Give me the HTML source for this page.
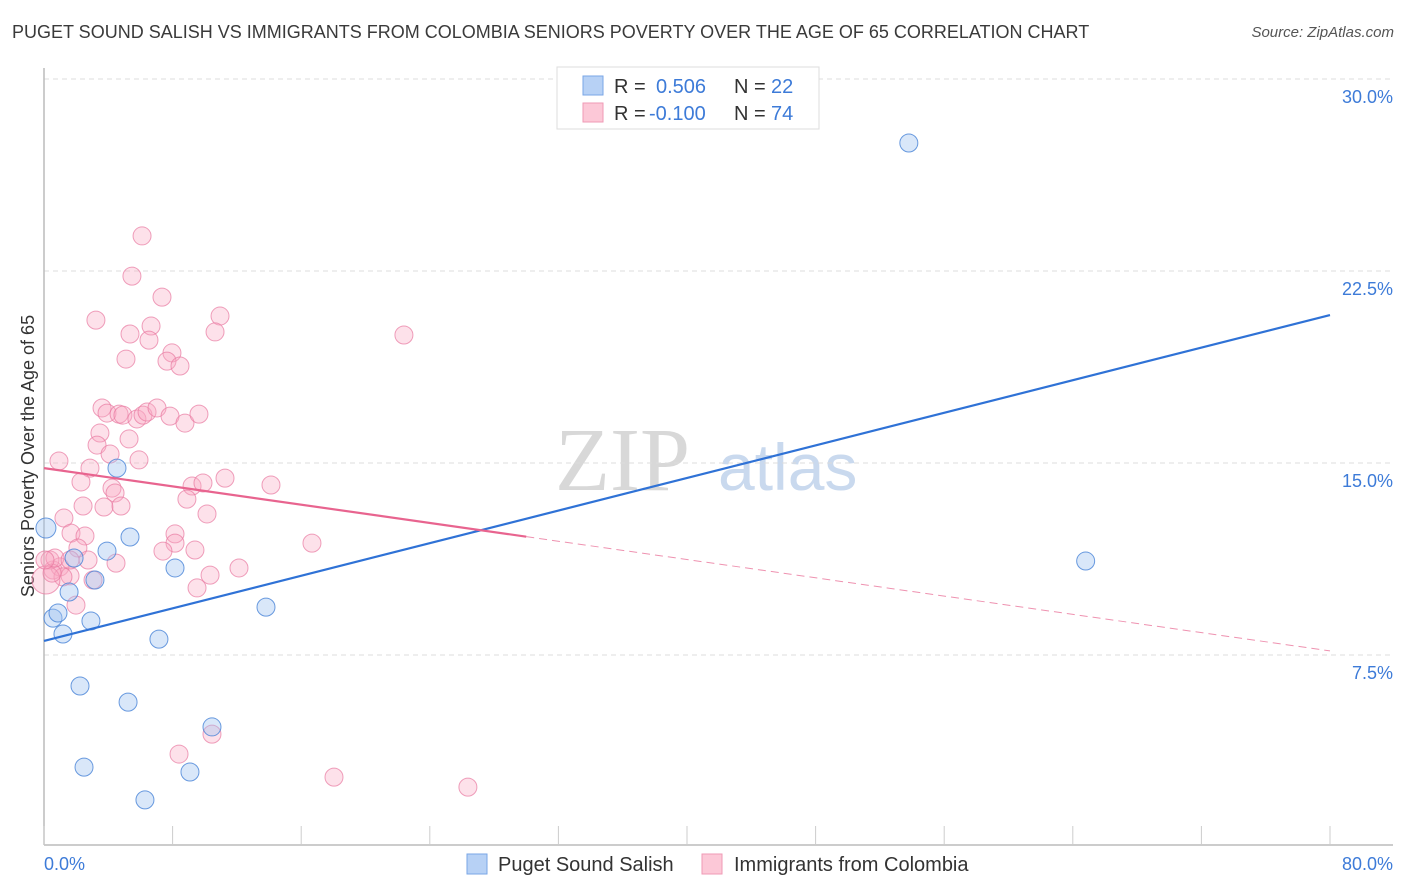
<!DOCTYPE html>
<html><head><meta charset="utf-8">
<style>
body{margin:0;background:#fff;font-family:"Liberation Sans",sans-serif;}
#wrap{position:relative;width:1406px;height:892px;overflow:hidden;}
.t{position:absolute;white-space:nowrap;}
</style></head>
<body>
<div id="wrap">
<div class="t" style="left:12px;top:22px;font-size:18px;color:#3a3a3a;">PUGET SOUND SALISH VS IMMIGRANTS FROM COLOMBIA SENIORS POVERTY OVER THE AGE OF 65 CORRELATION CHART</div>
<div class="t" style="right:12px;top:24px;font-size:15px;color:#555;font-style:italic;">Source: ZipAtlas.com</div>
<svg id="svg" width="1406" height="892" style="position:absolute;left:0;top:0"></svg>
</div>
<script>
const xTicksLabels=["0.0%","80.0%"];
const yTickValues=[7.5,15,22.5,30];
const yTickLabels=["7.5%","15.0%","22.5%","30.0%"];
const blueX=[0.12,0.56,0.87,1.18,1.56,1.87,2.24,2.49,2.92,3.17,3.92,4.54,5.23,5.35,6.28,7.15,8.15,9.08,10.45,13.81,53.8,64.8];
const blueY=[12.46,8.94,9.14,8.32,9.96,11.29,6.29,3.12,8.83,10.43,11.56,14.80,5.66,12.11,1.84,8.12,10.90,2.93,4.69,9.37,27.5,11.17];
const pinkX=[6.10,5.47,7.34,3.23,10.95,6.66,5.35,10.64,6.53,5.10,7.96,7.65,8.46,3.61,3.92,4.67,4.91,5.78,6.16,6.41,7.03,7.84,8.77,9.64,3.48,3.30,5.29,4.11,5.91,0.93,2.86,2.30,4.23,4.42,2.43,3.73,4.79,9.21,9.89,11.26,14.12,8.89,10.14,1.24,1.68,2.55,2.11,2.74,8.15,8.15,7.40,9.39,4.48,12.13,10.33,9.52,1.99,0.56,0.99,1.62,0.37,1.18,3.05,22.39,16.67,18.04,26.37,8.40,10.45,0.12,0.50,0.68,0.06,1.62];
const pinkY=[23.87,22.30,21.48,20.58,20.74,20.35,20.04,20.12,19.80,19.06,19.30,18.98,18.79,17.15,16.95,16.91,16.87,16.72,16.87,16.99,17.15,16.83,16.56,16.91,16.17,15.70,15.94,15.35,15.12,15.08,14.80,14.26,14.02,13.83,13.32,13.28,13.32,14.10,14.22,14.41,14.14,13.59,13.01,12.85,12.26,12.15,11.68,11.21,12.23,11.87,11.56,11.60,11.09,10.90,10.62,10.12,9.45,10.82,10.94,10.59,11.21,10.55,10.43,20.00,11.87,2.73,2.34,3.63,4.41,10.43,10.70,11.29,11.21,11.21];
const blueTrend=[8.05,20.78];
const pinkTrend=[14.80,7.66];
const pinkSolidEnd=30;

const NS="http://www.w3.org/2000/svg";
const svg=document.getElementById('svg');
const X=v=>44+v/80*1286;
const Y=v=>847-v/7.5*192;
function el(tag,a,parent){const e=document.createElementNS(NS,tag);for(const k in a)e.setAttribute(k,a[k]);(parent||svg).appendChild(e);return e;}

// watermark
let wm=el('text',{x:555,y:490,'font-family':'Liberation Serif,serif','font-size':90,fill:'#d8d8d8'});
wm.textContent='ZIP';


let wm2=el('text',{x:718,y:490,'font-family':'Liberation Sans,sans-serif','font-size':66,fill:'#c9d9ee'});
wm2.textContent='atlas';



// gridlines
yTickValues.forEach((v,i)=>{
  const g=el('line',{x1:44,x2:1393,y1:Y(v),y2:Y(v),stroke:'#dcdcdc','stroke-dasharray':'5,4','stroke-width':1});
  
  
  const t=el('text',{x:1393,y:Y(v)+24,'text-anchor':'end','font-size':18,fill:'#3d7bd8'});
  t.textContent=yTickLabels[i];
  
  
});
// axes
let ax=el('line',{x1:44,x2:1393,y1:845,y2:845,stroke:'#bbb','stroke-width':1.5});


let ay=el('line',{x1:44,x2:44,y1:68,y2:845,stroke:'#bbb','stroke-width':1.5});


for(let i=0;i<=10;i++){
  const tk=el('line',{x1:X(i*8),x2:X(i*8),y1:826,y2:845,stroke:'#ccc','stroke-width':1});
  
  
}
let xl0=el('text',{x:44,y:870,'font-size':18,fill:'#3d7bd8'});xl0.textContent=xTicksLabels[0];


let xl1=el('text',{x:1393,y:870,'text-anchor':'end','font-size':18,fill:'#3d7bd8'});xl1.textContent=xTicksLabels[1];


let yt=el('text',{x:0,y:0,'font-size':18,fill:'#333',transform:'translate(34,456) rotate(-90)','text-anchor':'middle'});
yt.textContent='Seniors Poverty Over the Age of 65';



// points
pinkX.forEach((x,i)=>{
  const big=(i===69);
  const c=el('circle',{cx:X(x),cy:Y(pinkY[i]),r:big?14:9,fill:'rgba(248,170,195,0.35)',stroke:'rgba(232,120,160,0.7)','stroke-width':1});
  
  
});
blueX.forEach((x,i)=>{
  const c=el('circle',{cx:X(x),cy:Y(blueY[i]),r:(i===0?10:9),fill:'rgba(160,195,240,0.4)',stroke:'rgba(70,130,215,0.8)','stroke-width':1});
  
  
});
// trend lines
let bl=el('line',{x1:X(0),y1:Y(blueTrend[0]),x2:X(80),y2:Y(blueTrend[1]),stroke:'#2f72d6','stroke-width':2.2});


const pAt=x=>pinkTrend[0]+(pinkTrend[1]-pinkTrend[0])*x/80;
let pl=el('line',{x1:X(0),y1:Y(pinkTrend[0]),x2:X(pinkSolidEnd),y2:Y(pAt(pinkSolidEnd)),stroke:'#e8648f','stroke-width':2.2});


let pd=el('line',{x1:X(pinkSolidEnd),y1:Y(pAt(pinkSolidEnd)),x2:X(80),y2:Y(pinkTrend[1]),stroke:'#e8648f','stroke-width':1,'stroke-dasharray':'8,5','opacity':0.7});



// top legend
let lg=el('g',{});


el('rect',{x:557,y:67,width:262,height:62,fill:'#fff',stroke:'#ddd'},lg);
el('rect',{x:583,y:76,width:20,height:19,fill:'#b7d1f5',stroke:'#7aa6e6'},lg);
el('rect',{x:583,y:103,width:20,height:19,fill:'#fcc8d7',stroke:'#ef9ab5'},lg);
function tx(x,y,s,c,p){const t=el('text',{x:x,y:y,'font-size':20,fill:c},p);t.textContent=s;return t;}
tx(614,93,'R =','#333',lg);tx(656,93,'0.506','#3d7bd8',lg);tx(734,93,'N =','#333',lg);tx(771,93,'22','#3d7bd8',lg);
tx(614,120,'R =','#333',lg);tx(649,120,'-0.100','#3d7bd8',lg);tx(734,120,'N =','#333',lg);tx(771,120,'74','#3d7bd8',lg);

// bottom legend
let b1=el('rect',{x:467,y:854,width:20,height:20,fill:'#b7d1f5',stroke:'#7aa6e6'});


let b1t=tx(498,871,'Puget Sound Salish','#333');


let b2=el('rect',{x:702,y:854,width:20,height:20,fill:'#fcc8d7',stroke:'#ef9ab5'});


let b2t=tx(734,871,'Immigrants from Colombia','#333');


</script>
</body></html>
